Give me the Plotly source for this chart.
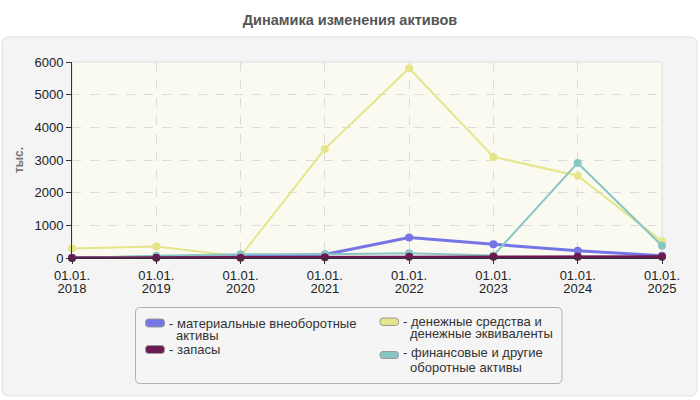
import plotly.graph_objects as go

years = ["2018", "2019", "2020", "2021", "2022", "2023", "2024", "2025"]
day_month = ["01.01."] * len(years)

tangible = [10, 20, 40, 110, 625, 420, 225, 70]
inventory = [0, 5, 10, 20, 40, 40, 40, 40]
cash = [290, 355, 50, 3340, 5810, 3095, 2520, 510]
financial = [0, 70, 115, 115, 145, 75, 2910, 375]

colors = {"tangible": "#7575e6", "cash": "#e5e58a", "inventory": "#6e1a52", "financial": "#88c6c3"}

x_idx = list(range(len(years)))

# plot area geometry in pixels
L, T, W, H = 72, 62, 590, 196
FIG_W, FIG_H = 700, 400


def px(x):
    return (x - L) / W


def py(y):
    return (T + H - y) / H


def rounded_rect(x0, x1, y0, y1, r):
    # pixel coords -> paper path
    X0, X1 = px(x0), px(x1)
    Y0, Y1 = py(y0), py(y1)
    rx, ry = r / W, r / H
    return (f"M{X0+rx},{Y0} L{X1-rx},{Y0} Q{X1},{Y0} {X1},{Y0-ry} "
            f"L{X1},{Y1+ry} Q{X1},{Y1} {X1-rx},{Y1} L{X0+rx},{Y1} "
            f"Q{X0},{Y1} {X0},{Y1+ry} L{X0},{Y0-ry} Q{X0},{Y0} {X0+rx},{Y0} Z")


fig = go.Figure()


def line(y, color, width):
    fig.add_trace(go.Scatter(x=x_idx, y=y, mode="lines+markers", showlegend=False,
                             line=dict(color=color, width=width),
                             marker=dict(color=color, size=8), cliponaxis=False,
                             hoverinfo="y"))


line(cash, colors["cash"], 2)
line(tangible, colors["tangible"], 3)
line(financial, colors["financial"], 2)
line(inventory, colors["inventory"], 3)

# carrier trace for the second (year) label axis
fig.add_trace(go.Scatter(x=x_idx, y=[None] * len(years), xaxis="x2", showlegend=False,
                         hoverinfo="skip", mode="lines"))

shapes = [
    dict(type="path", xref="paper", yref="paper", path=rounded_rect(2, 697, 37, 396, 7),
         fillcolor="#f4f4f4", line=dict(color="#e0e0e0", width=1), layer="below"),
    dict(type="rect", xref="paper", yref="paper", x0=0, x1=1, y0=0, y1=1,
         fillcolor="#fafaf1", line=dict(color="#dddddd", width=1), layer="below"),
    # legend box
    dict(type="path", xref="paper", yref="paper", path=rounded_rect(135.5, 562, 307.5, 383.5, 5),
         fillcolor="#f5f5f5", line=dict(color="#b0b0b0", width=1), layer="below"),
]

legend_items = [
    ("tangible", (145.5, 164.5, 319, 327), [(167, 323.5, "- материальные внеоборотные"), (174, 335.5, "активы")]),
    ("inventory", (145.5, 164.5, 345.5, 353.5), [(167, 349, "- запасы")]),
    ("cash", (380, 398.5, 318, 325.5), [(401, 321.5, "- денежные средства и"), (407.5, 333.5, "денежные эквиваленты")]),
    ("financial", (380, 398.5, 351.5, 358.5), [(401, 352, "- финансовые и другие"), (407.5, 367.5, "оборотные активы")]),
]

annotations = []
for key, (x0, x1, y0, y1), texts in legend_items:
    shapes.append(dict(type="path", xref="paper", yref="paper", path=rounded_rect(x0, x1, y0, y1, 3),
                       fillcolor=colors[key], line=dict(color="#999999", width=1), layer="above"))
    for tx, ty, t in texts:
        annotations.append(dict(xref="paper", yref="paper", x=px(tx), y=py(ty), text=t,
                                showarrow=False, xanchor="left", yanchor="middle",
                                font=dict(size=13, color="#333")))

fig.update_layout(
    width=FIG_W, height=FIG_H,
    margin=dict(l=L, r=FIG_W - L - W, t=T, b=FIG_H - T - H),
    paper_bgcolor="white",
    plot_bgcolor="rgba(0,0,0,0)",
    showlegend=False,
    font=dict(family="Liberation Sans, Arial, sans-serif", size=13, color="#222"),
    title=dict(text="<b>Динамика изменения активов</b>", x=0.5, xanchor="center",
               y=0.95, yanchor="middle",
               font=dict(size=14.5, color="#555")),
    xaxis=dict(range=[0, 7], tickmode="array", tickvals=x_idx, ticktext=day_month,
               showgrid=True, gridcolor="#dcdcdc",
               griddash="dash", gridwidth=1, showline=True, linecolor="#333",
               ticks="outside", ticklen=5, tickcolor="#333", zeroline=False,
               tickfont=dict(size=13, color="#222"), fixedrange=True),
    xaxis2=dict(range=[0, 7], tickmode="array", tickvals=x_idx, ticktext=years,
                overlaying="x", side="bottom", anchor="y", showgrid=False, showline=False,
                ticks="outside", ticklen=5, tickcolor="rgba(0,0,0,0)", zeroline=False,
                ticklabelstandoff=13, tickfont=dict(size=13, color="#222"), fixedrange=True),
    yaxis=dict(range=[0, 6000], dtick=1000, showgrid=True, gridcolor="#dcdcdc",
               griddash="dash", showline=True, linecolor="#333", ticks="outside",
               ticklen=5, tickcolor="#333", zeroline=False,
               tickfont=dict(size=13, color="#222"), fixedrange=True,
               title=dict(text="<b>тыс.</b>", font=dict(size=12, color="#777"), standoff=8)),
    shapes=shapes,
    annotations=annotations,
)

fig.write_html("out.html", config={"displayModeBar": False},
               post_script="document.body.style.margin='0';")
